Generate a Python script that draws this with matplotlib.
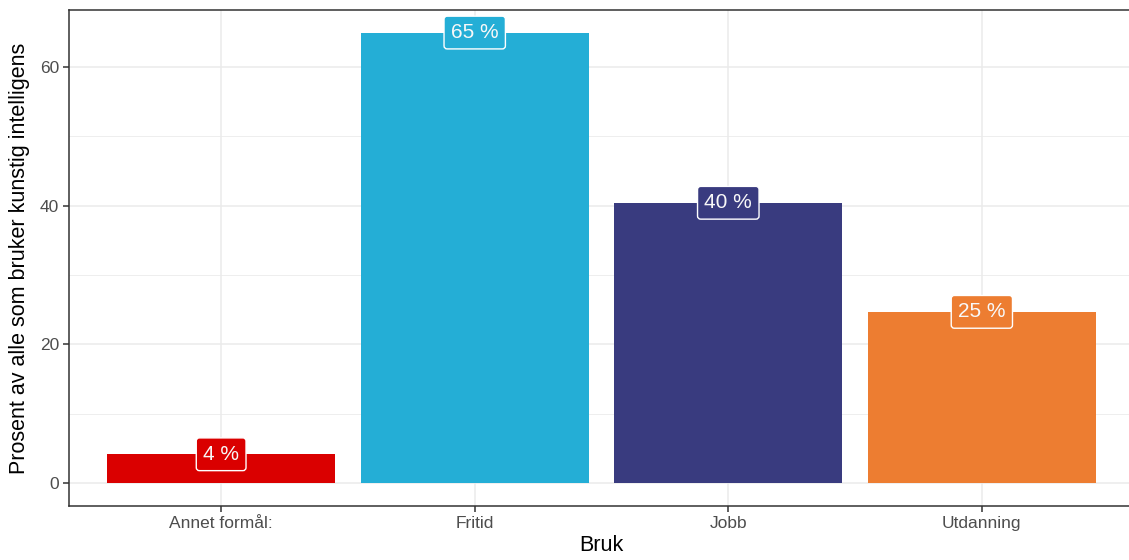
import matplotlib
matplotlib.use("Agg")
import matplotlib.pyplot as plt
from matplotlib.ticker import MultipleLocator

categories = ["Annet formål:", "Fritid", "Jobb", "Utdanning"]
values = [4.2, 64.9, 40.4, 24.7]
labels = ["4 %", "65 %", "40 %", "25 %"]
colors = ["#DA0000", "#24AED6", "#393B7F", "#ED7D31"]

plt.rcParams['font.family'] = ['Liberation Sans', 'DejaVu Sans']

W, H = 1129, 560
fig = plt.figure(figsize=(W / 100, H / 100), dpi=100)
ax = fig.add_axes([69 / W, (H - 506) / H, (1134 - 69) / W, (506 - 10) / H])

x = list(range(len(categories)))
ax.bar(x, values, width=0.9, color=colors, zorder=2)

ymax = max(values)
ax.set_ylim(-0.05 * ymax, 1.05 * ymax)
ax.set_xlim(-0.6, len(categories) - 0.4)

ax.yaxis.set_major_locator(MultipleLocator(20))
ax.yaxis.set_minor_locator(MultipleLocator(10))
ax.set_xticks(x)
ax.set_xticklabels(categories)

ax.grid(which='major', color='#EBEBEB', linewidth=1.1, zorder=0)
ax.grid(which='minor', axis='y', color='#EBEBEB', linewidth=0.6, zorder=0)
ax.set_axisbelow(True)

for s in ax.spines.values():
    s.set_color('#333333')
    s.set_linewidth(1.1)

ax.tick_params(axis='both', which='major', colors='#333333', labelcolor='#4D4D4D',
               labelsize=12.5, length=4, width=1.1, pad=3)
ax.tick_params(axis='y', which='minor', length=0)

ax.set_xlabel("Bruk", fontsize=15.5, color='black', labelpad=3)
ax.set_ylabel("Prosent av alle som bruker kunstig intelligens", fontsize=15.5,
              color='black', labelpad=7)

for xi, v, lab, c in zip(x, values, labels, colors):
    ax.text(xi, v, lab, ha='center', va='center', fontsize=15, color='#F8F8F8',
            zorder=4,
            bbox=dict(boxstyle='round,pad=0.33,rounding_size=0.15', facecolor=c,
                      edgecolor='white', linewidth=1.0))

fig.savefig("out.png", dpi=100)
